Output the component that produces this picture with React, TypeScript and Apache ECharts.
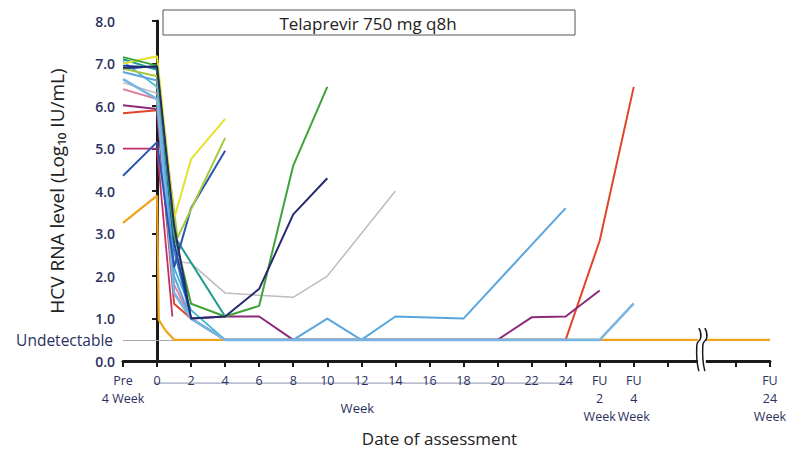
import React, { useEffect, useRef } from "react";
import * as echarts from "echarts";

// x positions are in weeks; Pre-treatment (4 weeks before) = -2, FU2 = 26, FU4 = 28, FU24 = 36
const tickValues = [-2, 0, 2, 4, 6, 8, 10, 12, 14, 16, 18, 20, 22, 24, 26, 28, 30, 32, 34, 36];
const tickLabels = [
  "Pre\n4 Week", "0", "2", "4", "6", "8", "10", "12", "14", "16", "18", "20", "22", "24",
  "FU\n2\nWeek", "FU\n4\nWeek", "", "", "", "FU\n24\nWeek",
];
const yTickValues = [0, 1, 2, 3, 4, 5, 6, 7, 8];
const yTickLabels = ["0.0", "1.0", "2.0", "3.0", "4.0", "5.0", "6.0", "7.0", "8.0"];
const undetectableLevel = 0.5;

const ptOrange = [[-2, 3.25], [0, 3.89], [0.1, 0.97], [0.5, 0.72], [1, 0.5], [36, 0.5]];
const ptGray = [[-2, 6.55], [0, 6.3], [1, 2.35], [2, 2.3], [4, 1.6], [8, 1.5], [10, 2.0], [14, 4.0]];
const ptPink = [[-2, 6.4], [0, 6.16], [1, 1.8], [2, 1.0], [4, 0.5]];
const ptMagenta = [[-2, 5.0], [0, 5.0], [0.9, 1.05]];
const ptRed = [[-2, 5.83], [0, 5.9], [1, 1.35], [2, 1.0], [4, 0.5], [24, 0.5], [26, 2.83], [28, 6.45]];
const ptPurple = [[-2, 6.02], [0, 5.93], [1, 1.6], [2, 1.0], [4, 1.05], [6, 1.05], [8, 0.5], [20, 0.5], [22, 1.03], [24, 1.05], [26, 1.66]];
const ptCyan = [[-2, 7.05], [0, 6.45], [1, 2.2], [2, 1.2], [4, 0.5]];
const ptMidBlue = [[-2, 6.86], [0, 6.95], [1, 2.6], [2, 1.0], [4, 0.5]];
const ptDeepBlue = [[-2, 6.95], [0, 6.9], [1, 2.8], [2, 1.0], [4, 0.5]];
const ptLightBlueB = [[-2, 6.8], [0, 6.6], [1, 2.0], [2, 1.0], [4, 0.5], [8, 0.5], [10, 1.0], [12, 0.5], [14, 1.05], [18, 1.0], [24, 3.6]];
const ptLightBlueA = [[-2, 6.63], [0, 6.16], [1, 1.6], [2, 1.0], [4, 0.5], [26, 0.5], [28, 1.36]];
const ptTeal = [[-2, 7.1], [0, 6.85], [1, 2.95], [4, 1.05]];
const ptBlue = [[-2, 4.36], [0, 5.15], [1, 2.2], [2, 3.6], [4, 4.95]];
const ptYellowGreen = [[-2, 6.88], [0, 6.7], [1.2, 2.9], [4, 5.25]];
const ptYellow = [[-2, 7.0], [0, 7.17], [1, 3.35], [2, 4.75], [4, 5.7]];
const ptGreen = [[-2, 7.15], [0, 6.95], [1, 3.0], [2, 1.35], [4, 1.05], [6, 1.3], [8, 4.6], [10, 6.45]];
const ptNavy = [[-2, 6.9], [0, 6.93], [1, 3.2], [2, 1.0], [4, 1.05], [6, 1.7], [8, 3.45], [10, 4.3]];

const patients = [
  { name: "P1", data: ptOrange, color: "#f0a21c", width: 2.2 },
  { name: "P2", data: ptGray, color: "#bdbdbd", width: 1.5 },
  { name: "P3", data: ptPink, color: "#e0789a", width: 1.8 },
  { name: "P4", data: ptMagenta, color: "#c0306a", width: 1.8 },
  { name: "P5", data: ptRed, color: "#e0452a", width: 2 },
  { name: "P6", data: ptPurple, color: "#8c2a7a", width: 2 },
  { name: "P7", data: ptCyan, color: "#3db5d8", width: 1.8 },
  { name: "P8", data: ptMidBlue, color: "#3a78c8", width: 1.8 },
  { name: "P9", data: ptDeepBlue, color: "#1c3c9c", width: 1.8 },
  { name: "P10", data: ptLightBlueB, color: "#5aa6dc", width: 2 },
  { name: "P11", data: ptLightBlueA, color: "#7ab4e2", width: 2.6 },
  { name: "P12", data: ptTeal, color: "#1f9a8f", width: 2 },
  { name: "P13", data: ptBlue, color: "#2a56b0", width: 2 },
  { name: "P14", data: ptYellowGreen, color: "#a6c93a", width: 2 },
  { name: "P15", data: ptYellow, color: "#e6e02a", width: 2 },
  { name: "P16", data: ptGreen, color: "#3fa33a", width: 2 },
  { name: "P17", data: ptNavy, color: "#262a6e", width: 2 },
];

const textColor = "#2b3160";
const font = "'Open Sans', 'DejaVu Sans', sans-serif";

export default function App() {
  const ref = useRef<HTMLDivElement>(null);
  useEffect(() => {
    document.body.style.margin = "0";
    const chart = echarts.init(ref.current!, null, { renderer: "svg" });
    const series: any[] = [
      {
        name: "Undetectable",
        type: "line",
        data: [],
        z: 1,
        markLine: {
          z: 1,
          silent: true,
          symbol: "none",
          lineStyle: { color: "#a8a8a8", width: 1, type: "solid" },
          label: {
            show: true,
            position: "start",
            formatter: "Undetectable",
            color: textColor,
            fontSize: 15.5,
            fontFamily: font,
            distance: 10,
          },
          data: [{ yAxis: undetectableLevel }],
        },
      },
      ...patients.map((p) => ({
        name: p.name,
        type: "line",
        data: p.data,
        showSymbol: false,
        symbol: "none",
        lineStyle: { color: p.color, width: p.width },
        itemStyle: { color: p.color },
        z: 3,
      })),
    ];
    chart.setOption({
      animation: false,
      textStyle: { fontFamily: font },
      grid: { left: 123, right: 17, top: 21, bottom: 89, containLabel: false },
      xAxis: {
        type: "value",
        min: -2,
        max: 36,
        interval: 2,
        splitLine: { show: false },
        axisLine: { show: true, onZero: false, lineStyle: { color: "#1a1a1a", width: 3 } },
        axisTick: { show: true, length: 6, lineStyle: { color: "#1a1a1a", width: 2 } },
        axisLabel: {
          color: textColor,
          fontSize: 12.5,
          lineHeight: 18,
          margin: 10,
          showMinLabel: true,
          showMaxLabel: true,
          hideOverlap: false,
          formatter: (v: number) => {
            const i = tickValues.indexOf(v);
            return i >= 0 ? tickLabels[i] : "";
          },
        },
        name: "Date of assessment",
        nameLocation: "middle",
        nameGap: 65,
        nameTextStyle: { fontSize: 17, color: "#222", padding: [0, 14, 0, 0] },
      },
      yAxis: {
        type: "value",
        min: 0,
        max: 8,
        interval: 1,
        splitLine: { show: false },
        axisLine: { show: true, lineStyle: { color: "#1a1a1a", width: 3 } },
        axisTick: { show: true, length: 5, lineStyle: { color: "#1a1a1a", width: 2 } },
        axisLabel: {
          color: textColor,
          fontSize: 14,
          fontWeight: 600,
          margin: 8,
          formatter: (v: number) => {
            const i = yTickValues.indexOf(v);
            return i >= 0 ? yTickLabels[i] : "";
          },
        },
        name: "HCV RNA level (Log₁₀ IU/mL)",
        nameLocation: "middle",
        nameGap: 57,
        nameTextStyle: { fontSize: 19, color: "#222" },
      },
      series,
    });

    const px = (x: number, y: number) => chart.convertToPixel({ gridIndex: 0 }, [x, y]) as number[];
    const brk = px(32, 0);
    const wkStart = px(-0.2, 0);
    const wkEnd = px(24.2, 0);
    const wkMid = px(12, 0);
    chart.setOption({
      graphic: [
        {
          type: "rect",
          shape: { x: 163, y: 10, width: 412, height: 25 },
          style: { fill: "#fff", stroke: "#555", lineWidth: 1 },
        },
        {
          type: "text",
          x: 368,
          y: 23,
          style: {
            text: "Telaprevir 750 mg q8h",
            fontSize: 17,
            fontFamily: font,
            fill: "#222",
            align: "center",
            verticalAlign: "middle",
          },
        },
        {
          type: "line",
          shape: { x1: wkStart[0], y1: brk[1] + 22, x2: wkEnd[0], y2: brk[1] + 22 },
          style: { stroke: "#8890b0", lineWidth: 1 },
        },
        {
          type: "text",
          x: wkMid[0] - 4,
          y: brk[1] + 47,
          style: {
            text: "Week",
            fontSize: 13,
            fontFamily: font,
            fill: textColor,
            align: "center",
            verticalAlign: "middle",
          },
        },
        {
          type: "rect",
          shape: { x: brk[0] - 4, y: brk[1] - 33, width: 8, height: 43 },
          style: { fill: "#fff" },
          z: 50,
        },
        {
          type: "polyline",
          shape: {
            points: [
              [brk[0] - 3, brk[1] - 33],
              [brk[0] - 1, brk[1] - 24],
              [brk[0] - 5, brk[1] - 16],
              [brk[0] - 3, brk[1] + 10],
            ],
            smooth: 0.6,
          },
          style: { stroke: "#1a1a1a", lineWidth: 1.5, fill: "none" },
          z: 51,
        },
        {
          type: "polyline",
          shape: {
            points: [
              [brk[0] + 3, brk[1] - 33],
              [brk[0] + 5, brk[1] - 24],
              [brk[0] + 1, brk[1] - 16],
              [brk[0] + 3, brk[1] + 10],
            ],
            smooth: 0.6,
          },
          style: { stroke: "#1a1a1a", lineWidth: 1.5, fill: "none" },
          z: 51,
        },
      ],
    });
    return () => chart.dispose();
  }, []);
  return <div ref={ref} style={{ width: 789, height: 452 }} />;
}
